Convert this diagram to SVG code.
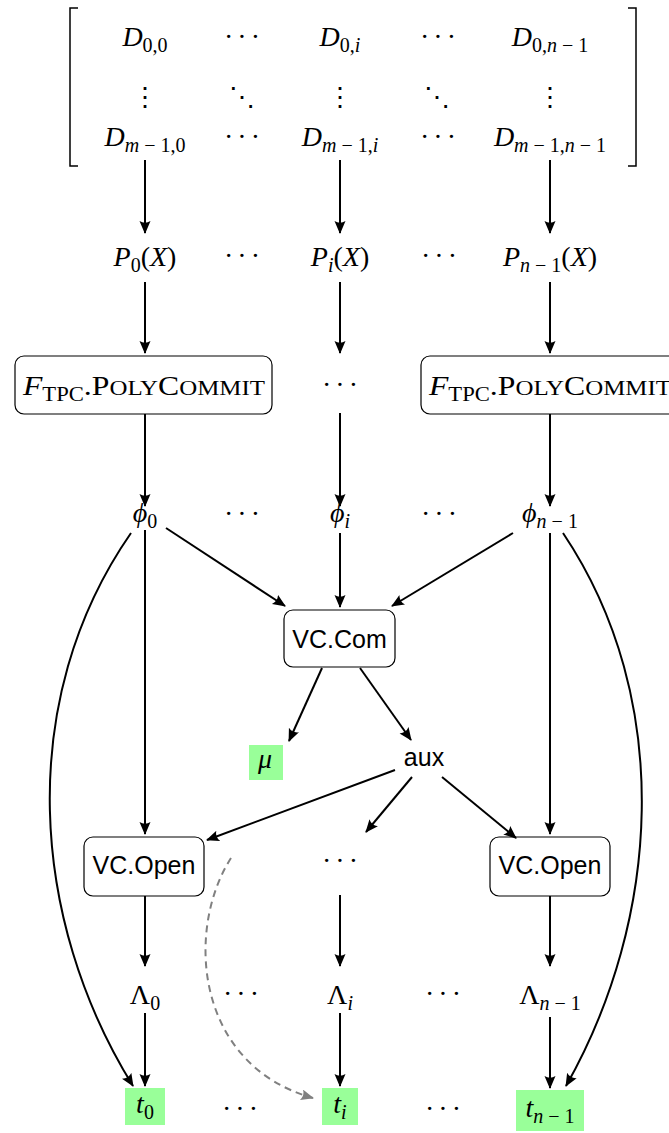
<svg xmlns="http://www.w3.org/2000/svg" width="669" height="1133" viewBox="0 0 669 1133">
<style>
.m{font-family:"Liberation Serif",serif;font-size:28px;text-anchor:middle;fill:#000}
.i{font-style:italic}
.s{font-size:20px}
.sc{font-size:22px}
.d{font-family:"Liberation Serif",serif;font-size:28px;letter-spacing:4px;text-anchor:middle;fill:#000}
.v{font-family:"DejaVu Serif",serif;font-size:26px;text-anchor:middle;fill:#000}
.sf{font-family:"Liberation Sans",sans-serif;font-size:25px;text-anchor:middle;fill:#000}
.box{fill:#fff;stroke:#000;stroke-width:1.2}
.hl{fill:#99ff99}
.e{fill:none;stroke:#000;stroke-width:2;marker-end:url(#ah)}
.g{fill:none;stroke:#808080;stroke-width:2;stroke-dasharray:7 5;marker-end:url(#ahg)}
.br{fill:none;stroke:#000;stroke-width:1.5}
</style>
<defs>
<marker id="ah" markerWidth="16" markerHeight="14" refX="12" refY="5.5" orient="auto" markerUnits="userSpaceOnUse"><path d="M0,0 L13,5.5 L0,11 Q3.5,5.5 0,0 z" fill="#000"/></marker>
<marker id="ahg" markerWidth="16" markerHeight="14" refX="12" refY="5.5" orient="auto" markerUnits="userSpaceOnUse"><path d="M0,0 L13,5.5 L0,11 Q3.5,5.5 0,0 z" fill="#808080"/></marker>
</defs>

<g id="matrix">
<path class="br" d="M78,8 H70 V166 H78"/>
<path class="br" d="M628,8 H636 V166 H628"/>
<text class="m" x="145" y="46"><tspan class="i">D</tspan><tspan class="s" dy="6">0,0</tspan></text>
<text class="d" x="244" y="46">···</text>
<text class="m" x="340" y="46"><tspan class="i">D</tspan><tspan class="s" dy="6">0,<tspan class="i">i</tspan></tspan></text>
<text class="d" x="440" y="46">···</text>
<text class="m" x="550" y="46"><tspan class="i">D</tspan><tspan class="s" dy="6">0,<tspan class="i">n</tspan> − 1</tspan></text>
<text class="v" x="145" y="106">⋮</text>
<text class="v" x="242" y="106">⋱</text>
<text class="v" x="340" y="106">⋮</text>
<text class="v" x="437" y="106">⋱</text>
<text class="v" x="550" y="106">⋮</text>
<text class="m" x="145" y="146"><tspan class="i">D</tspan><tspan class="s" dy="6"><tspan class="i">m</tspan> − 1,0</tspan></text>
<text class="d" x="244" y="146">···</text>
<text class="m" x="340" y="146"><tspan class="i">D</tspan><tspan class="s" dy="6"><tspan class="i">m</tspan> − 1,<tspan class="i">i</tspan></tspan></text>
<text class="d" x="440" y="146">···</text>
<text class="m" x="550" y="146"><tspan class="i">D</tspan><tspan class="s" dy="6"><tspan class="i">m</tspan> − 1,<tspan class="i">n</tspan> − 1</tspan></text>
</g>

<g id="polys">
<text class="m" x="145" y="266"><tspan class="i">P</tspan><tspan class="s" dy="6">0</tspan><tspan dy="-6">(</tspan><tspan class="i">X</tspan>)</text>
<text class="d" x="244" y="265">···</text>
<text class="m" x="340" y="266"><tspan class="i">P</tspan><tspan class="s i" dy="6">i</tspan><tspan dy="-6">(</tspan><tspan class="i">X</tspan>)</text>
<text class="d" x="441" y="265">···</text>
<text class="m" x="550" y="266"><tspan class="i">P</tspan><tspan class="s" dy="6"><tspan class="i">n</tspan> − 1</tspan><tspan dy="-6">(</tspan><tspan class="i">X</tspan>)</text>
</g>

<g id="polycommit0">
<rect class="box" x="15" y="356" width="257" height="58" rx="9"/>
<text class="m" x="144" y="395" textLength="242" lengthAdjust="spacingAndGlyphs"><tspan class="i">F</tspan><tspan class="s" dy="6">TPC</tspan><tspan dy="-6">.P</tspan><tspan class="sc">OLY</tspan>C<tspan class="sc">OMMIT</tspan></text>
</g>
<g id="polycommit_dots">
<text class="d" x="342" y="394">···</text>
</g>
<g id="polycommitN">
<rect class="box" x="421" y="356" width="257" height="58" rx="9"/>
<text class="m" x="550" y="395" textLength="242" lengthAdjust="spacingAndGlyphs"><tspan class="i">F</tspan><tspan class="s" dy="6">TPC</tspan><tspan dy="-6">.P</tspan><tspan class="sc">OLY</tspan>C<tspan class="sc">OMMIT</tspan></text>
</g>

<g id="phis">
<text class="m" x="145" y="522"><tspan class="i">ϕ</tspan><tspan class="s" dy="6">0</tspan></text>
<text class="d" x="244" y="523">···</text>
<text class="m" x="340" y="522"><tspan class="i">ϕ</tspan><tspan class="s i" dy="6">i</tspan></text>
<text class="d" x="441" y="523">···</text>
<text class="m" x="550" y="522"><tspan class="i">ϕ</tspan><tspan class="s" dy="6"><tspan class="i">n</tspan> − 1</tspan></text>
</g>

<g id="vccom">
<rect class="box" x="284" y="610" width="111" height="57" rx="9"/>
<text class="sf" x="339.5" y="648">VC.Com</text>
</g>
<g id="mu">
<rect class="hl" x="249" y="745" width="34" height="35"/>
<text class="m i" x="265" y="768">μ</text>
</g>
<g id="aux">
<text class="sf" x="424" y="766">aux</text>
</g>

<g id="vcopen0">
<rect class="box" x="84" y="837" width="120" height="59" rx="9"/>
<text class="sf" x="144" y="874">VC.Open</text>
</g>
<g id="open_dots">
<text class="d" x="342" y="870">···</text>
</g>
<g id="vcopenN">
<rect class="box" x="490" y="837" width="120" height="59" rx="9"/>
<text class="sf" x="550" y="874">VC.Open</text>
</g>

<g id="lambdas">
<text class="m" x="145" y="1004"><tspan>Λ</tspan><tspan class="s" dy="6">0</tspan></text>
<text class="d" x="243" y="1003">···</text>
<text class="m" x="340" y="1004"><tspan>Λ</tspan><tspan class="s i" dy="6">i</tspan></text>
<text class="d" x="445" y="1003">···</text>
<text class="m" x="550" y="1004"><tspan>Λ</tspan><tspan class="s" dy="6"><tspan class="i">n</tspan> − 1</tspan></text>
</g>

<g id="ts">
<rect class="hl" x="125" y="1088" width="40" height="37"/>
<text class="m" x="145" y="1113"><tspan class="i">t</tspan><tspan class="s" dy="6">0</tspan></text>
<text class="d" x="242" y="1118">···</text>
<rect class="hl" x="322" y="1088" width="36" height="37"/>
<text class="m" x="340" y="1113"><tspan class="i">t</tspan><tspan class="s i" dy="6">i</tspan></text>
<text class="d" x="445" y="1118">···</text>
<rect class="hl" x="516" y="1090" width="68" height="41"/>
<text class="m" x="550" y="1117"><tspan class="i">t</tspan><tspan class="s" dy="6"><tspan class="i">n</tspan> − 1</tspan></text>
</g>

<g id="connectors">
<path class="e" d="M145,160 V233"/>
<path class="e" d="M340,160 V233"/>
<path class="e" d="M550,160 V233"/>
<path class="e" d="M145,282 V353"/>
<path class="e" d="M340,282 V353"/>
<path class="e" d="M550,282 V353"/>
<path class="e" d="M145,414 V506"/>
<path class="e" d="M340,413 V506"/>
<path class="e" d="M550,414 V506"/>
<path class="e" d="M166,528 L285,606"/>
<path class="e" d="M340,533 V607"/>
<path class="e" d="M513,533 L392,606"/>
<path class="e" d="M145,530 V834"/>
<path class="e" d="M550,533 V834"/>
<path class="e" d="M131,533 C15,700 30,920 133,1086"/>
<path class="e" d="M563,533 C675,700 660,920 566,1086"/>
<path class="e" d="M322,668 L289,741"/>
<path class="e" d="M360,668 L411,740"/>
<path class="e" d="M395,770 L207,840"/>
<path class="e" d="M412,777 L366,832"/>
<path class="e" d="M442,777 L516,838"/>
<path class="e" d="M145,896 V966"/>
<path class="e" d="M340,895 V966"/>
<path class="e" d="M550,896 V966"/>
<path class="e" d="M145,1013 V1086"/>
<path class="e" d="M340,1013 V1086"/>
<path class="e" d="M550,1017 V1088"/>
<path class="g" d="M231,858 C185,930 195,1065 313,1098"/>
</g>
</svg>
